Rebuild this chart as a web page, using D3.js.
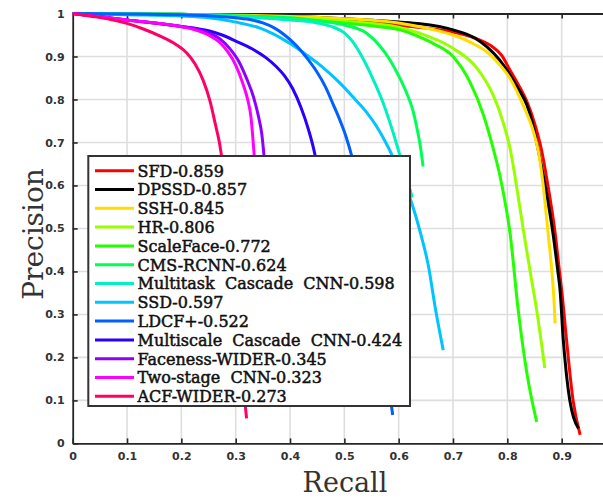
<!DOCTYPE html>
<html>
<head>
<meta charset="utf-8">
<script src="https://cdn.jsdelivr.net/npm/d3@7"></script>
<style>
  body { margin: 0; background: #fff; }
  svg { display: block; }
</style>
</head>
<body>
<div id="chart-area"></div>
<script>
// method names and their AP scores, in legend order
const methods = ['SFD', 'DPSSD', 'SSH', 'HR', 'ScaleFace', 'CMS-RCNN', 'Multitask  Cascade  CNN', 'SSD', 'LDCF+', 'Multiscale  Cascade  CNN', 'Faceness-WIDER', 'Two-stage  CNN', 'ACF-WIDER'];
const scores = ['0.859', '0.857', '0.845', '0.806', '0.772', '0.624', '0.598', '0.597', '0.522', '0.424', '0.345', '0.323', '0.273'];
const colors = ['#ff0000', '#000000', '#ffdd00', '#99ff00', '#22ff00', '#00ff55', '#00f0c0', '#00c4ff', '#0060ff', '#2a00ff', '#8c00ff', '#ff00ff', '#ff0066'];

const xTicks = [0, 0.1, 0.2, 0.3, 0.4, 0.5, 0.6, 0.7, 0.8, 0.9];
const yTicks = [0, 0.1, 0.2, 0.3, 0.4, 0.5, 0.6, 0.7, 0.8, 0.9, 1];

// [recall, precision] points
const sfd = [[0,1],[0.2,0.997],[0.4,0.99],[0.5,0.984],[0.58,0.975],[0.65,0.966],[0.7,0.957],[0.74,0.943],[0.77,0.925],[0.79,0.902],[0.805,0.868],[0.82,0.835],[0.836,0.795],[0.85,0.745],[0.863,0.682],[0.876,0.59],[0.888,0.489],[0.896,0.4],[0.9,0.357],[0.909,0.24],[0.921,0.1],[0.934,0.02]];
const dpssd = [[0,1],[0.2,0.998],[0.4,0.993],[0.5,0.988],[0.6,0.98],[0.639,0.976],[0.7,0.962],[0.74,0.943],[0.762,0.923],[0.785,0.893],[0.805,0.857],[0.82,0.825],[0.836,0.787],[0.848,0.735],[0.857,0.682],[0.871,0.59],[0.884,0.489],[0.893,0.4],[0.897,0.357],[0.903,0.24],[0.908,0.17],[0.915,0.1],[0.922,0.06],[0.931,0.035]];
const ssh = [[0,1],[0.2,0.998],[0.4,0.993],[0.5,0.988],[0.6,0.978],[0.639,0.969],[0.7,0.95],[0.74,0.928],[0.762,0.911],[0.785,0.882],[0.805,0.849],[0.829,0.787],[0.848,0.725],[0.857,0.68],[0.866,0.6],[0.875,0.49],[0.882,0.4],[0.886,0.33],[0.888,0.279]];
const hr = [[0,1],[0.2,0.997],[0.4,0.99],[0.5,0.982],[0.6,0.968],[0.639,0.954],[0.7,0.919],[0.744,0.873],[0.774,0.81],[0.792,0.748],[0.806,0.68],[0.818,0.59],[0.829,0.5],[0.842,0.4],[0.854,0.31],[0.869,0.175]];
const scaleFace = [[0,1],[0.2,0.996],[0.4,0.988],[0.5,0.978],[0.56,0.97],[0.603,0.962],[0.639,0.945],[0.664,0.93],[0.7,0.9],[0.731,0.841],[0.756,0.764],[0.774,0.686],[0.786,0.625],[0.796,0.56],[0.805,0.489],[0.82,0.31],[0.836,0.163],[0.854,0.05]];
const cmsRcnn = [[0,1],[0.2,0.998],[0.3,0.995],[0.4,0.99],[0.45,0.983],[0.5,0.973],[0.541,0.954],[0.565,0.925],[0.584,0.892],[0.6,0.855],[0.615,0.814],[0.626,0.775],[0.633,0.737],[0.64,0.69],[0.645,0.644]];
const multitask = [[0,1],[0.2,0.998],[0.3,0.993],[0.4,0.985],[0.45,0.978],[0.48,0.968],[0.5,0.955],[0.515,0.935],[0.53,0.905],[0.55,0.855],[0.572,0.79],[0.588,0.73],[0.602,0.671],[0.614,0.62],[0.625,0.572]];
const ssdNet = [[0,1],[0.1,0.997],[0.2,0.994],[0.25,0.99],[0.3,0.98],[0.345,0.966],[0.37,0.952],[0.4,0.93],[0.431,0.903],[0.462,0.873],[0.492,0.838],[0.52,0.8],[0.541,0.77],[0.558,0.74],[0.572,0.71],[0.59,0.665],[0.607,0.615],[0.624,0.559],[0.64,0.49],[0.655,0.411],[0.667,0.318],[0.682,0.217]];
const ldcf = [[0,1],[0.1,0.999],[0.2,0.997],[0.25,0.995],[0.3,0.99],[0.33,0.985],[0.35,0.978],[0.37,0.967],[0.39,0.95],[0.412,0.925],[0.432,0.895],[0.449,0.865],[0.465,0.83],[0.48,0.787],[0.493,0.748],[0.504,0.71],[0.513,0.671],[0.525,0.6],[0.545,0.45],[0.565,0.28],[0.58,0.15],[0.589,0.066]];
const multiscale = [[0,1],[0.1,0.985],[0.2,0.97],[0.25,0.96],[0.275,0.95],[0.3,0.936],[0.33,0.918],[0.355,0.898],[0.375,0.876],[0.39,0.855],[0.405,0.825],[0.42,0.782],[0.434,0.73],[0.446,0.671],[0.458,0.58],[0.468,0.46],[0.476,0.32]];
const faceness = [[0,1],[0.1,0.985],[0.2,0.97],[0.222,0.966],[0.25,0.955],[0.27,0.942],[0.288,0.92],[0.305,0.89],[0.32,0.849],[0.333,0.805],[0.342,0.76],[0.348,0.72],[0.352,0.671],[0.358,0.57],[0.364,0.46],[0.37,0.36]];
const twoStage = [[0,1],[0.1,0.985],[0.2,0.969],[0.222,0.963],[0.25,0.95],[0.271,0.932],[0.286,0.91],[0.3,0.88],[0.314,0.834],[0.322,0.8],[0.328,0.76],[0.334,0.671],[0.34,0.56],[0.345,0.46],[0.35,0.36]];
const acf = [[0,1],[0.038,0.993],[0.07,0.986],[0.1,0.977],[0.13,0.964],[0.16,0.948],[0.19,0.928],[0.21,0.908],[0.225,0.883],[0.24,0.845],[0.253,0.795],[0.263,0.74],[0.27,0.7],[0.276,0.65],[0.282,0.58],[0.292,0.45],[0.302,0.3],[0.312,0.16],[0.32,0.058]];

const curves = [sfd, dpssd, ssh, hr, scaleFace, cmsRcnn, multitask, ssdNet, ldcf, multiscale, faceness, twoStage, acf];

const WIDTH = 603, HEIGHT = 498;
const PLOT = { left: 72.7, top: 13.5, bottom: 443.4, right: 616 };

const svg = d3.select('#chart-area')
  .append('svg')
  .attr('width', WIDTH)
  .attr('height', HEIGHT);

const xScale = d3.scaleLinear().domain([0, 1]).range([PLOT.left, PLOT.right]);
const yScale = d3.scaleLinear().domain([0, 1]).range([PLOT.bottom, PLOT.top]);

// grid
const grid = svg.append('g').attr('class', 'grid');
grid.selectAll('.vgrid')
  .data(xTicks.slice(1))
  .enter().append('line')
  .attr('x1', d => xScale(d)).attr('x2', d => xScale(d))
  .attr('y1', PLOT.top).attr('y2', PLOT.bottom)
  .attr('stroke', '#dedede').attr('stroke-width', 1.6);
grid.selectAll('.hgrid')
  .data(yTicks.slice(1, -1))
  .enter().append('line')
  .attr('x1', PLOT.left).attr('x2', WIDTH)
  .attr('y1', d => yScale(d)).attr('y2', d => yScale(d))
  .attr('stroke', '#dedede').attr('stroke-width', 1.6);

// axes, matlab style: ticks pointing in
const axisColor = '#262626';
const xAxis = svg.append('g')
  .attr('transform', `translate(0, ${PLOT.bottom})`)
  .call(d3.axisBottom(xScale).tickValues(xTicks).tickSize(-5).tickPadding(9).tickFormat(d3.format('')).tickSizeOuter(0));
const xTop = svg.append('g')
  .attr('transform', `translate(0, ${PLOT.top})`)
  .call(d3.axisTop(xScale).tickValues(xTicks.slice(1)).tickSize(-5).tickFormat('').tickSizeOuter(0));
const yAxis = svg.append('g')
  .attr('transform', `translate(${PLOT.left}, 0)`)
  .call(d3.axisLeft(yScale).tickValues(yTicks).tickSize(-5).tickPadding(8).tickFormat(d3.format('')).tickSizeOuter(0));

[xAxis, xTop, yAxis].forEach(ax => {
  ax.select('.domain').attr('stroke', axisColor).attr('stroke-width', 1.8);
  ax.selectAll('.tick line').attr('stroke', axisColor).attr('stroke-width', 1.6);
  ax.selectAll('.tick text')
    .attr('fill', '#333')
    .style('font-family', 'DejaVu Sans, sans-serif')
    .style('font-weight', 'bold')
    .style('font-size', '11px');
});

// curves
const line = d3.line()
  .x(d => xScale(d[0]))
  .y(d => yScale(d[1]))
  .curve(d3.curveMonotoneX);

svg.append('g').selectAll('path')
  .data(curves)
  .enter().append('path')
  .attr('d', line)
  .attr('fill', 'none')
  .attr('stroke', (d, i) => colors[i])
  .attr('stroke-width', 3)
  .attr('stroke-linejoin', 'round');

// axis labels
svg.append('text')
  .attr('x', 345)
  .attr('y', 492)
  .attr('text-anchor', 'middle')
  .attr('fill', '#333')
  .style('font-family', 'DejaVu Serif, serif')
  .style('font-size', '27px')
  .text('Recall');

svg.append('text')
  .attr('transform', 'translate(43, 234) rotate(-90)')
  .attr('text-anchor', 'middle')
  .attr('fill', '#333')
  .style('font-family', 'DejaVu Serif, serif')
  .style('font-size', '28px')
  .text('Precision');

// legend
const legend = svg.append('g').attr('class', 'legend');
legend.append('rect')
  .attr('x', 88.3).attr('y', 156)
  .attr('width', 321.7).attr('height', 250)
  .attr('fill', '#fff')
  .attr('stroke', '#333').attr('stroke-width', 2);

const rows = legend.selectAll('.row')
  .data(methods)
  .enter().append('g')
  .attr('transform', (d, i) => `translate(0, ${170.7 + i * 18.8})`);

rows.append('line')
  .attr('x1', 95).attr('x2', 134)
  .attr('stroke', (d, i) => colors[i])
  .attr('stroke-width', 3);

rows.append('text')
  .attr('x', 137.5)
  .attr('y', 5.8)
  .attr('fill', '#111')
  .attr('stroke', '#111')
  .attr('stroke-width', 0.5)
  .style('font-family', 'DejaVu Serif, serif')
  .style('font-size', '16px')
  .style('white-space', 'pre')
  .text((d, i) => `${d}-${scores[i]}`);
</script>
</body>
</html>
